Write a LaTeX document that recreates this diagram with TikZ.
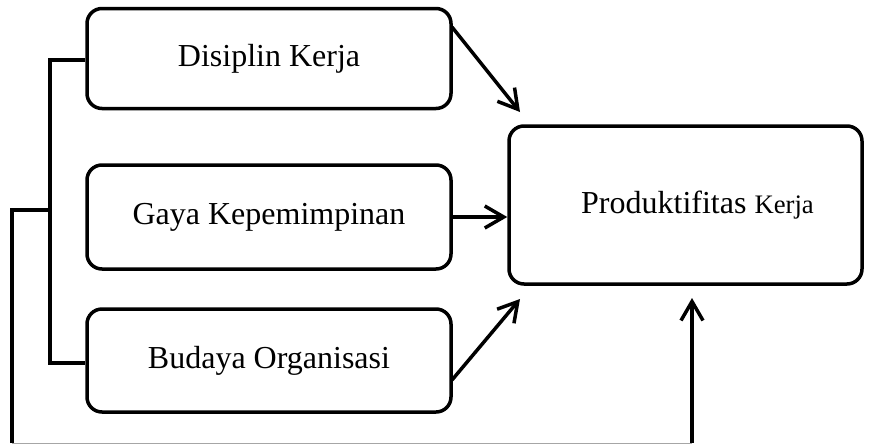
\documentclass[tikz,border=0pt]{standalone}
\usepackage{fontspec}
\setmainfont{Liberation Serif}
\usetikzlibrary{arrows.meta}
\tikzset{
  box/.style={draw, line width=3.5pt, rounded corners=15pt, inner sep=0pt, font=\fontsize{32}{38}\selectfont},
  conn/.style={line width=3.5pt},
  arr/.style={line width=3.5pt, -{Straight Barb[length=19pt,width=22pt,line width=3.5pt]}},
  thin gray/.style={line width=1pt, draw=gray!70}
}
\begin{document}
\begin{tikzpicture}[x=1pt,y=-1pt]
\useasboundingbox (0,0) rectangle (875,445);
\node[box, minimum width=364pt, minimum height=100pt] (dk) at (269,58.5) {Disiplin Kerja};
\node[box, minimum width=364pt, minimum height=104pt] (gk) at (269,217) {Gaya Kepemimpinan};
\node[box, minimum width=364pt, minimum height=103pt] (bo) at (269,360.5) {Budaya Organisasi};
\node[box, minimum width=353pt, minimum height=158pt] (pk) at (685.5,205) {\hspace*{24pt}\raisebox{-3pt}{Produktifitas {\fontsize{26.7}{32}\selectfont Kerja}}};
% bracket
\coordinate (bt) at (50,60);
\coordinate (bm) at (50,210);
\coordinate (bb) at (50,363);
\coordinate (ol) at (12,210);
\coordinate (oc) at (12,443);
\coordinate (ar) at (692,443);
\coordinate (at) at (692,298);
\draw[conn] (dk.west |- bt) -- (bt) -- (bb) -- (bo.west |- bb);
\draw[conn] (bm) -- (ol) -- (oc);
\draw[thin gray] (oc) -- (ar);
\draw[arr] (ar) -- (at);
% arrows
\coordinate (s1) at (452,27);
\coordinate (t1) at (520,112);
\coordinate (s3) at (452,380);
\coordinate (t3) at (520,299);
\draw[arr] (s1) -- (t1);
\draw[arr] (gk.east) -- (gk.east -| pk.west);
\draw[arr] (s3) -- (t3);
\end{tikzpicture}
\end{document}
